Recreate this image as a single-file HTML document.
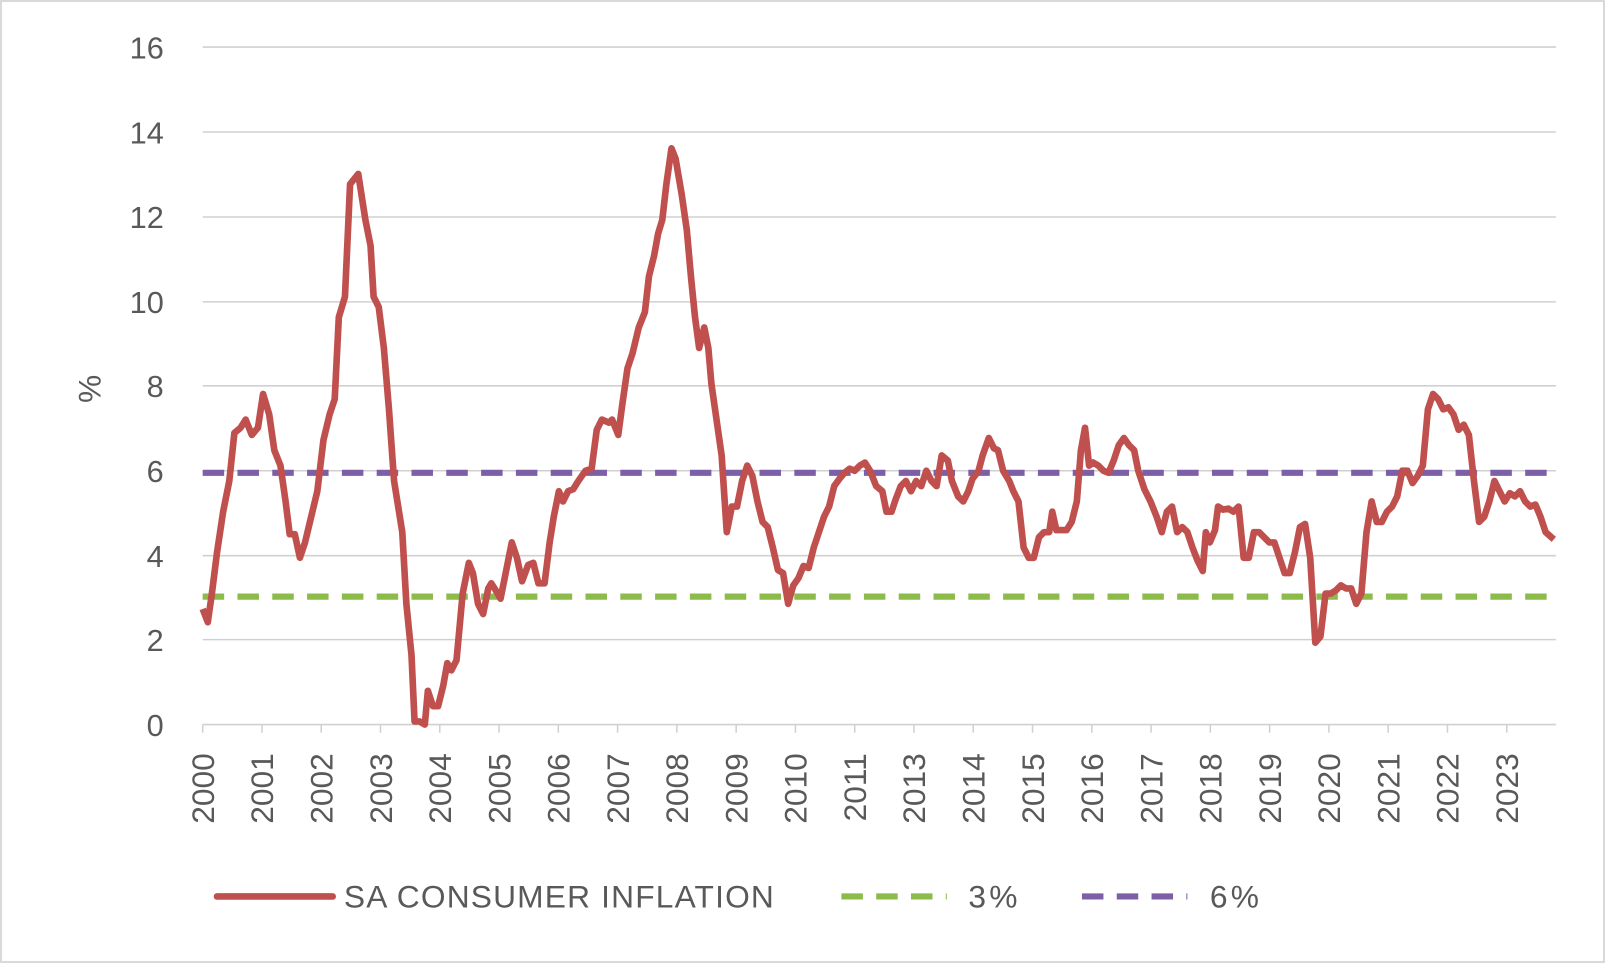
<!DOCTYPE html>
<html><head><meta charset="utf-8"><style>
html,body{margin:0;padding:0;background:#fff;}
svg{display:block;}
text{font-family:"Liberation Sans",sans-serif;fill:#595959;}
</style></head><body>
<svg width="1605" height="963" viewBox="0 0 1568 941" preserveAspectRatio="none">
<rect x="0.5" y="0.5" width="1567" height="940" fill="#fff" stroke="#d9d9d9" stroke-width="3"/>
<g stroke="#d0d0d0" stroke-width="1.5">
<line x1="198" y1="46" x2="1520" y2="46"/><line x1="198" y1="129" x2="1520" y2="129"/>
<line x1="198" y1="212" x2="1520" y2="212"/><line x1="198" y1="295" x2="1520" y2="295"/>
<line x1="198" y1="377" x2="1520" y2="377"/><line x1="198" y1="460" x2="1520" y2="460"/>
<line x1="198" y1="543" x2="1520" y2="543"/><line x1="198" y1="625" x2="1520" y2="625"/>
<line x1="198" y1="708" x2="1520" y2="708"/>
</g>
<g font-size="30" text-anchor="end">
<text x="160" y="57">16</text><text x="160" y="140">14</text><text x="160" y="223">12</text>
<text x="160" y="306">10</text><text x="160" y="388">8</text><text x="160" y="471">6</text>
<text x="160" y="554">4</text><text x="160" y="636">2</text><text x="160" y="719">0</text>
</g>
<text font-size="31" transform="translate(98,380) rotate(-90)" text-anchor="middle">%</text>
<g id="ticks" stroke="#d0d0d0" stroke-width="1.5"></g>
<g id="labels" font-size="31"></g>
<line x1="198" y1="583" x2="1520" y2="583" stroke="#8cbb4a" stroke-width="6" stroke-dasharray="21,13"/>
<line x1="198" y1="462" x2="1520" y2="462" stroke="#7d5fa8" stroke-width="6" stroke-dasharray="21,13"/>
<polyline fill="none" stroke="#c0504d" stroke-width="6.5" stroke-linejoin="round" points="198,595 203,608 207,580 212,540 218,500 224,470 229,423 235,418 240,410 246,425 252,418 257,385 263,405 268,440 274,455 279,490 283,522 288,522 293,545 298,530 304,505 310,480 316,430 322,405 327,390 331,310 337,290 342,180 350,170 357,215 362,240 365,290 370,300 375,340 380,400 385,470 389,495 393,520 397,590 402,640 405,705 410,705 415,708 418,675 423,690 428,690 433,670 437,648 441,655 446,645 452,580 458,550 462,560 467,590 472,600 477,575 480,570 485,578 489,585 494,560 500,530 505,545 510,568 516,552 521,550 526,570 532,570 537,530 541,505 546,480 550,490 555,480 560,478 565,470 572,460 578,458 583,420 588,410 595,413 598,410 604,425 608,395 613,360 618,345 624,320 630,305 634,270 639,250 643,228 647,215 651,180 656,145 660,155 666,190 671,225 675,270 679,310 683,340 688,320 692,340 695,375 700,410 705,445 710,520 715,495 720,495 725,470 730,455 735,465 740,490 745,510 750,515 755,535 760,557 765,560 770,590 775,572 780,565 785,553 790,555 795,535 800,520 805,505 810,495 815,475 820,468 825,462 830,458 835,460 840,455 845,452 850,460 856,475 862,480 866,500 871,500 875,488 880,475 885,470 890,480 895,470 900,475 905,460 910,470 915,475 920,445 926,450 930,470 936,485 941,490 946,480 950,468 956,460 960,445 966,428 971,438 975,440 980,460 986,470 990,480 995,490 1000,535 1005,545 1010,545 1015,525 1020,520 1025,520 1028,500 1032,518 1037,518 1042,518 1047,510 1052,490 1056,440 1060,418 1064,455 1068,452 1073,455 1078,460 1083,462 1088,450 1093,435 1098,428 1103,435 1108,440 1112,460 1118,478 1124,490 1130,505 1135,520 1140,500 1145,495 1150,520 1155,515 1160,520 1165,535 1170,548 1175,558 1178,520 1182,530 1187,518 1190,495 1195,498 1200,497 1205,500 1210,495 1215,545 1220,545 1225,520 1230,520 1235,525 1240,530 1245,530 1250,545 1255,560 1260,560 1265,540 1270,515 1275,512 1280,545 1285,628 1290,622 1295,580 1300,580 1305,577 1310,572 1315,575 1320,575 1325,590 1330,580 1335,520 1340,490 1345,510 1350,510 1355,500 1360,495 1365,485 1370,460 1375,460 1380,472 1385,465 1390,455 1395,400 1400,385 1405,390 1410,400 1415,398 1420,405 1425,420 1430,415 1435,425 1440,470 1445,510 1450,505 1455,490 1460,470 1465,480 1470,490 1475,482 1480,485 1485,480 1490,490 1495,495 1500,493 1505,505 1510,520 1518,527"/>
<line x1="212" y1="876" x2="325" y2="876" stroke="#c0504d" stroke-width="6.5" stroke-linecap="round"/>
<text x="336" y="887" font-size="31" textLength="420" lengthAdjust="spacing">SA CONSUMER INFLATION</text>
<line x1="822" y1="876" x2="925" y2="876" stroke="#8cbb4a" stroke-width="6" stroke-dasharray="21,13"/>
<text x="946" y="887" font-size="31" textLength="48" lengthAdjust="spacing">3%</text>
<line x1="1057" y1="876" x2="1160" y2="876" stroke="#7d5fa8" stroke-width="6" stroke-dasharray="21,13"/>
<text x="1182" y="887" font-size="31" textLength="48" lengthAdjust="spacing">6%</text>
</svg>
<script>
var yrs=[2000,2001,2002,2003,2004,2005,2006,2007,2008,2009,2010,2011,2013,2014,2015,2016,2017,2018,2019,2020,2021,2022,2023];
var t=document.getElementById('ticks'),l=document.getElementById('labels'),ns='http://www.w3.org/2000/svg';
yrs.forEach(function(y,i){var x=198+i*(1472-198)/22;
var ln=document.createElementNS(ns,'line');ln.setAttribute('x1',x);ln.setAttribute('x2',x);ln.setAttribute('y1',708);ln.setAttribute('y2',716);t.appendChild(ln);
var tx=document.createElementNS(ns,'text');tx.setAttribute('transform','translate('+(x+11)+',736) rotate(-90)');tx.setAttribute('text-anchor','end');tx.textContent=y;l.appendChild(tx);});
</script>
</body></html>
